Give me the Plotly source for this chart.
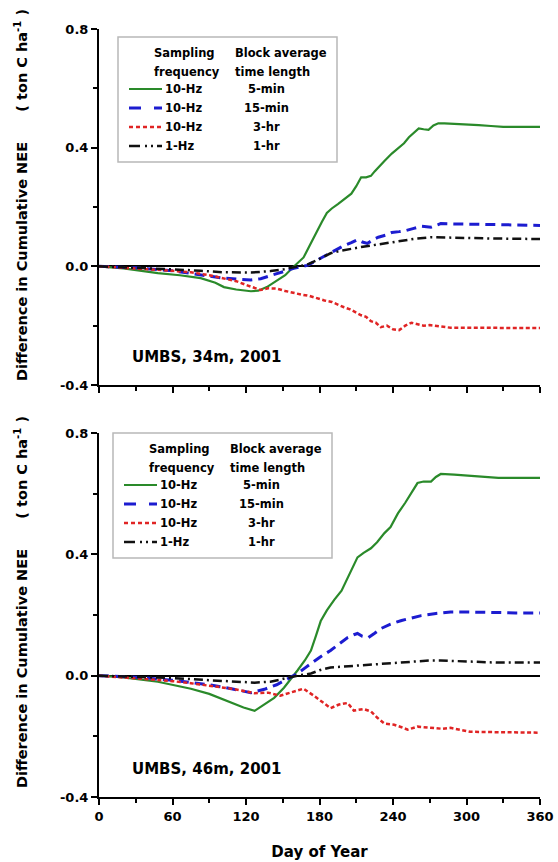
import plotly.graph_objects as go

# ---------------- data ----------------
# Panel 1: UMBS, 34m, 2001
d_g34 = [0,20,48,66,83,95,102,112,124,130,137,145,152,158,163,167,172,178,182,186,
         190,195,200,206,210,214,218,222,225,228,233,239,245,249,253,257,261,265,269,273,
         277,282,290,300,310,320,330,340,350,360]
v_g34 = [0,-0.007,-0.023,-0.03,-0.04,-0.055,-0.07,-0.078,-0.084,-0.082,
         -0.07,-0.05,-0.03,-0.005,0.015,0.03,0.07,0.12,0.15,0.18,
         0.195,0.21,0.225,0.245,0.27,0.30,0.30,0.305,0.32,0.334,
         0.355,0.38,0.40,0.415,0.435,0.45,0.465,0.462,0.46,0.475,
         0.482,0.482,0.481,0.478,0.476,0.473,0.47,0.47,0.47,0.47]

d_b34 = [0,30,60,83,102,124,132,141,150,159,170,180,189,200,206,211,215,219,224,228,
         234,239,245,250,257,263,271,279,290,301,320,340,360]
v_b34 = [0,-0.005,-0.015,-0.03,-0.04,-0.046,-0.042,-0.03,-0.018,-0.007,
         0.003,0.025,0.046,0.07,0.08,0.09,0.082,0.077,0.09,0.098,
         0.105,0.114,0.117,0.12,0.128,0.135,0.132,0.144,0.143,0.142,
         0.14,0.139,0.138]

d_r34 = [0,20,40,60,75,90,102,112,121,127,132,138,145,152,159,165,172,178,184,190,
         195,200,205,210,214,218,222,226,230,235,240,245,250,255,260,265,270,278,287,300,
         320,340,360]
v_r34 = [0,-0.004,-0.01,-0.015,-0.02,-0.03,-0.04,-0.05,-0.064,-0.072,
         -0.08,-0.074,-0.075,-0.083,-0.09,-0.095,-0.1,-0.108,-0.115,-0.12,
         -0.13,-0.138,-0.145,-0.155,-0.165,-0.17,-0.185,-0.19,-0.205,-0.2,
         -0.212,-0.215,-0.2,-0.19,-0.195,-0.2,-0.198,-0.203,-0.207,-0.207,
         -0.208,-0.208,-0.208]

d_k34 = [0,30,60,83,102,124,140,151,160,170,180,189,198,206,214,222,230,239,248,258,
         271,287,300,320,340,360]
v_k34 = [0,-0.004,-0.01,-0.015,-0.02,-0.021,-0.016,-0.01,-0.002,0.006,
         0.025,0.044,0.053,0.06,0.065,0.07,0.075,0.08,0.087,0.093,
         0.098,0.096,0.095,0.094,0.093,0.092]

# Panel 2: UMBS, 46m, 2001
d_g46 = [0,20,48,75,90,108,118,127,135,143,151,157,162,168,173,177,181,186,192,198,
         204,211,216,222,227,233,238,244,250,256,260,265,271,275,279,290,300,310,326,340,360]
v_g46 = [0,-0.006,-0.02,-0.043,-0.06,-0.089,-0.105,-0.116,-0.095,-0.073,
         -0.04,-0.01,0.017,0.05,0.083,0.13,0.18,0.215,0.25,0.28,
         0.33,0.39,0.405,0.42,0.44,0.47,0.49,0.535,0.57,0.61,
         0.635,0.64,0.64,0.655,0.665,0.663,0.66,0.657,0.652,0.652,0.652]

d_b46 = [0,30,60,90,108,124,135,145,151,157,162,168,173,180,189,196,203,208,211,215,
         220,225,230,238,247,255,263,275,287,300,320,340,360]
v_b46 = [0,-0.005,-0.015,-0.03,-0.043,-0.056,-0.045,-0.03,-0.017,-0.005,
         0.007,0.025,0.04,0.06,0.083,0.105,0.126,0.135,0.139,0.13,
         0.126,0.14,0.155,0.17,0.182,0.19,0.198,0.205,0.21,0.21,
         0.208,0.207,0.207]

d_r46 = [0,30,60,75,90,108,120,127,138,148,157,167,175,181,189,196,203,208,216,222,
         227,233,241,247,252,260,271,280,287,303,320,340,360]
v_r46 = [0,-0.008,-0.018,-0.025,-0.033,-0.043,-0.052,-0.058,-0.056,-0.066,
         -0.055,-0.043,-0.065,-0.082,-0.107,-0.095,-0.09,-0.115,-0.11,-0.118,
         -0.138,-0.158,-0.162,-0.17,-0.178,-0.168,-0.172,-0.175,-0.172,-0.185,
         -0.186,-0.187,-0.188]

d_k46 = [0,30,60,90,110,127,140,151,162,173,180,189,200,211,225,240,255,270,279,290,
         310,326,340,360]
v_k46 = [0,-0.003,-0.008,-0.015,-0.02,-0.023,-0.02,-0.01,0.0,0.007,
         0.018,0.027,0.03,0.033,0.036,0.042,0.046,0.05,0.05,0.048,
         0.045,0.043,0.043,0.043]

legend_freq = ["10-Hz", "10-Hz", "10-Hz", "1-Hz"]
legend_block = ["5-min", "15-min", "3-hr", "1-hr"]
panel_labels = ["UMBS, 34m, 2001", "UMBS, 46m, 2001"]
x_tickvals = [0, 60, 120, 180, 240, 300, 360]
x_ticktext = ["0", "60", "120", "180", "240", "300", "360"]
y_tickvals = [-0.4, 0.0, 0.4, 0.8]
y_ticktext = ["-0.4", "0.0", "0.4", "0.8"]

# ---------------- styling ----------------
FONT = "DejaVu Sans"
styles = [
    dict(color="#2a8a2a", width=2.2, dash="solid"),
    dict(color="#1c1cd0", width=3, dash="10px,6px"),
    dict(color="#e02424", width=2.5, dash="4px,2.5px"),
    dict(color="#111111", width=2.5, dash="9px,4px,2px,4px"),
]
legend_dash = ["solid", "12px,13px", "4px,3px", "11px,5px,2px,4px,2px,4px"]

# target pixel frame (reference picture) and the frame requested from plotly
W, H = 558, 862
FW, FH = 566, 870
SX, SY = FW / W, FH / H
ML, MR, MT, MB = 98, 19, 29, 65
PW, PH = W - ML - MR, H - MT - MB


def px(xp):
    return (xp - ML) / PW


def py(yp):
    return (H - MB - yp) / PH


fig = go.Figure()
panels = [
    ("x", "y", [(d_g34, v_g34), (d_b34, v_b34), (d_r34, v_r34), (d_k34, v_k34)]),
    ("x2", "y2", [(d_g46, v_g46), (d_b46, v_b46), (d_r46, v_r46), (d_k46, v_k46)]),
]
for xa, ya, series in panels:
    for (d, v), st in zip(series, styles):
        fig.add_trace(go.Scatter(x=d, y=v, mode="lines", xaxis=xa, yaxis=ya,
                                 line=st, showlegend=False, hoverinfo="skip"))

tickfont = dict(family=FONT, size=13, color="black", weight="bold")
common_x = dict(range=[0, 360], showgrid=False, zeroline=False, showline=True,
                linecolor="black", linewidth=2, ticks="outside", ticklen=6,
                tickwidth=2, tickcolor="black", tickvals=x_tickvals, ticktext=x_ticktext,
                tickfont=tickfont,
                minor=dict(dtick=30, tick0=0, ticks="outside", ticklen=4,
                           tickwidth=1.5, tickcolor="black", showgrid=False))
common_y = dict(range=[-0.4, 0.8], showgrid=False, zeroline=True, zerolinecolor="black",
                zerolinewidth=2, showline=True, linecolor="black", linewidth=2,
                ticks="outside", ticklen=6, tickwidth=2, tickcolor="black",
                tickvals=y_tickvals, ticktext=y_ticktext, tickfont=tickfont,
                minor=dict(dtick=0.2, tick0=0, ticks="outside", ticklen=4,
                           tickwidth=1.5, tickcolor="black", showgrid=False))

fig.update_layout(
    width=FW, height=FH, autosize=False,
    margin=dict(l=ML * SX, r=MR * SX, t=MT * SY, b=MB * SY),
    paper_bgcolor="white", plot_bgcolor="white",
    showlegend=False,
    xaxis=dict(common_x, anchor="y", showticklabels=False),
    yaxis=dict(common_y, anchor="x", domain=[py(385), 1.0]),
    xaxis2=dict(common_x, anchor="y2",
                title=dict(text="Day of Year", standoff=24,
                           font=dict(family=FONT, size=15, color="black", weight="bold"))),
    yaxis2=dict(common_y, anchor="x2", domain=[0.0, py(433)]),
)

annos = []
shapes = []
lab_font = dict(family=FONT, size=14.5, color="black", weight="bold")
ylabel = ("Difference in Cumulative NEE&nbsp;&nbsp;&nbsp;&nbsp;&nbsp;&nbsp;"
          "( ton C ha<sup>-1</sup> )")
for yc in (195, 602):
    annos.append(dict(text=ylabel, xref="paper", yref="paper", x=px(20), y=py(yc),
                      xanchor="center", yanchor="middle", textangle=-90,
                      showarrow=False, font=lab_font))

for lab, yc in zip(panel_labels, (357, 769)):
    annos.append(dict(text=lab, xref="paper", yref="paper", x=px(129), y=py(yc),
                      xanchor="left", yanchor="middle", showarrow=False,
                      font=dict(family=FONT, size=15, color="black", weight="bold")))

leg_font = dict(family=FONT, size=11.5, color="black", weight="bold")


def add_legend(dx, dy):
    shapes.append(dict(type="rect", xref="paper", yref="paper", layer="above",
                       x0=px(117 + dx), x1=px(336 + dx), y0=py(162 + dy), y1=py(37 + dy),
                       line=dict(color="#b8b8b8", width=1.5), fillcolor="white"))
    heads = [("Sampling", 183, 53, "center"), ("frequency", 186, 72, "center"),
             ("Block average", 232, 53, "left"), ("time length", 232, 72, "left")]
    for t, xx, yy, anc in heads:
        annos.append(dict(text=t, xref="paper", yref="paper", x=px(xx + dx), y=py(yy + dy),
                          xanchor=anc, yanchor="middle", showarrow=False, font=leg_font))
    rows_y = [89, 108, 127, 146]
    for i, yy in enumerate(rows_y):
        st = styles[i]
        shapes.append(dict(type="line", xref="paper", yref="paper", layer="above",
                           x0=px(128 + dx), x1=px(161 + dx), y0=py(yy + dy), y1=py(yy + dy),
                           line=dict(color=st["color"], width=st["width"], dash=legend_dash[i])))
        annos.append(dict(text=legend_freq[i], xref="paper", yref="paper",
                          x=px(162 + dx), y=py(yy + dy), xanchor="left", yanchor="middle",
                          showarrow=False, font=leg_font))
        annos.append(dict(text=legend_block[i], xref="paper", yref="paper",
                          x=px(265 + dx), y=py(yy + dy), xanchor="center", yanchor="middle",
                          showarrow=False, font=leg_font))


add_legend(0, 0)
add_legend(-5, 396)

fig.update_layout(annotations=annos, shapes=shapes)
fig.write_html("out.html",
               config={"displayModeBar": False, "responsive": False},
               post_script="document.body.style.margin='0';")
